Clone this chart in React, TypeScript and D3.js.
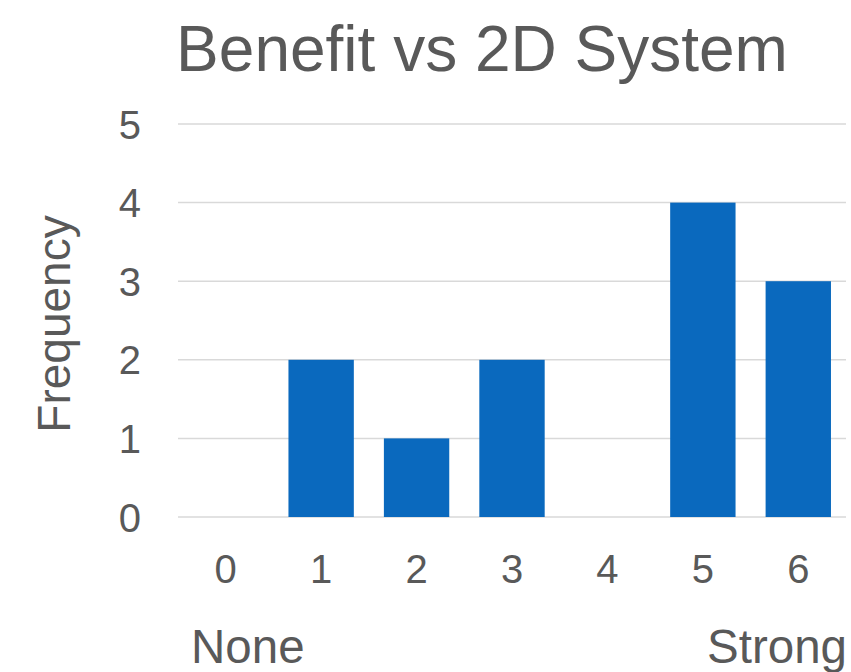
import React from "react";
import * as d3 from "d3";

const categories = ["0", "1", "2", "3", "4", "5", "6"];
const values = [0, 2, 1, 2, 0, 4, 3];
const yTicks = [0, 1, 2, 3, 4, 5];
const title = "Benefit vs 2D System";
const yLabel = "Frequency";
const lowLabel = "None";
const highLabel = "Strong";

const W = 851;
const H = 672;
const left = 178;
const right = 846;
const top = 124;
const bottom = 517;
const textColor = "#595959";
const font = "'Liberation Sans', Arial, sans-serif";

export default function App() {
  const x = d3.scaleBand<string>().domain(categories).range([left, right]).paddingInner(0.315).paddingOuter(0.1575);
  const y = d3.scaleLinear().domain([0, 5]).range([bottom, top]);
  return (
    <svg width={W} height={H} style={{ position: "absolute", left: 0, top: 0, background: "#fff" }} fontFamily={font}>
      <text x={482} y={71} fontSize={64} fill={textColor} textAnchor="middle">{title}</text>
      {yTicks.map((t) => (
        <g key={t}>
          <line x1={left} x2={right} y1={y(t)} y2={y(t)} stroke="#d9d9d9" strokeWidth={1.5} />
          <text x={141} y={y(t) + 14.5} fontSize={40} fill={textColor} textAnchor="end">{t}</text>
        </g>
      ))}
      {categories.map((c, i) => (
        <rect key={c} x={x(c)} y={y(values[i])} width={x.bandwidth()} height={y(0) - y(values[i])} fill="#0A69BE" />
      ))}
      {categories.map((c) => (
        <text key={c} x={(x(c) as number) + x.bandwidth() / 2} y={583} fontSize={40} fill={textColor} textAnchor="middle">{c}</text>
      ))}
      <text x={191} y={663} fontSize={47.5} fill={textColor}>{lowLabel}</text>
      <text x={847} y={663} fontSize={47.5} fill={textColor} textAnchor="end">{highLabel}</text>
      <text transform={`translate(70,324) rotate(-90)`} fontSize={46} fill={textColor} textAnchor="middle">{yLabel}</text>
    </svg>
  );
}
